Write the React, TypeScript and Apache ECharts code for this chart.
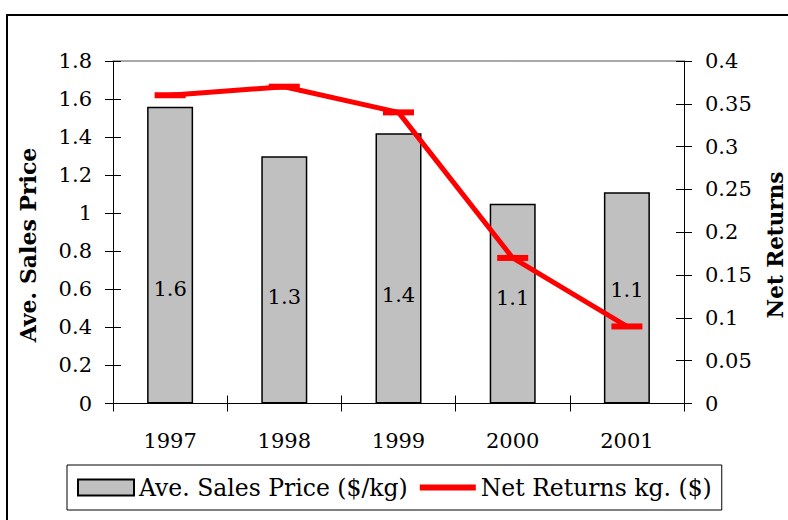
import React, { useEffect, useRef } from "react";
import * as echarts from "echarts";

const categories = ["1997", "1998", "1999", "2000", "2001"];
const salesPrice = [1.56, 1.3, 1.42, 1.05, 1.11];
const netReturns = [0.36, 0.37, 0.34, 0.17, 0.09];
const seriesNames = ["Ave. Sales Price ($/kg)", "Net Returns kg. ($)"];
const axisTitles = ["Ave. Sales Price", "Net Returns"];

// style: per-bar label lift from the bar base (px)
const labelLift = [104, 96, 98, 95, 103];

const FONT = '"DejaVu Serif", serif';

export default function App() {
  const ref = useRef<HTMLDivElement>(null);
  useEffect(() => {
    if (!ref.current) return;
    const chart = echarts.init(ref.current, null, { renderer: "svg" });
    const tickOut = { show: true, inside: false, length: 8, lineStyle: { color: "#000", width: 1 } };
    const tickIn = { show: true, inside: true, length: 8, lineStyle: { color: "#000", width: 1 } };
    const label = { color: "#000", fontSize: 21, fontFamily: FONT };
    chart.setOption({
      animation: false,
      backgroundColor: "#fff",
      textStyle: { fontFamily: FONT, color: "#000" },
      grid: { left: 113, right: 104, top: 61, bottom: 116.5, outerBoundsMode: "none", containLabel: false },
      xAxis: [
        {
          type: "category", data: categories, position: "bottom", boundaryGap: true,
          axisLine: { show: true, onZero: false, lineStyle: { color: "#000", width: 1 } },
          axisTick: { ...tickOut, alignWithLabel: false },
          axisLabel: { ...label, fontSize: 21, margin: 27 },
          splitLine: { show: false },
        },
        {
          type: "category", data: categories, position: "bottom", boundaryGap: true,
          axisLine: { show: false, onZero: false },
          axisTick: { ...tickIn, alignWithLabel: false },
          axisLabel: { show: false },
          splitLine: { show: false },
        },
        {
          type: "category", data: categories, position: "top", boundaryGap: true,
          axisLine: { show: true, onZero: false, lineStyle: { color: "#8c8c8c", width: 1.5 } },
          axisTick: { show: false },
          axisLabel: { show: false },
          splitLine: { show: false },
        },
      ],
      yAxis: [
        {
          type: "value", position: "left", min: 0, max: 1.8, interval: 0.2,
          axisLine: { show: true, lineStyle: { color: "#000", width: 1 } },
          axisTick: tickOut,
          axisLabel: { ...label, margin: 21 },
          splitLine: { show: false },
        },
        {
          type: "value", position: "left", min: 0, max: 1.8, interval: 0.2,
          axisLine: { show: false },
          axisTick: tickIn,
          axisLabel: { show: false },
          splitLine: { show: false },
        },
        {
          type: "value", position: "right", min: 0, max: 0.4, interval: 0.05,
          axisLine: { show: true, lineStyle: { color: "#000", width: 1 } },
          axisTick: tickOut,
          axisLabel: { ...label, margin: 21 },
          splitLine: { show: false },
        },
        {
          type: "value", position: "right", min: 0, max: 0.4, interval: 0.05,
          axisLine: { show: false },
          axisTick: tickIn,
          axisLabel: { show: false },
          splitLine: { show: false },
        },
      ],
      legend: {
        left: 67,
        top: 465,
        padding: [10.5, 10, 10.5, 10],
        itemWidth: 56,
        itemHeight: 16,
        itemGap: 12,
        borderColor: "#000",
        borderWidth: 1,
        textStyle: { color: "#000", fontSize: 23.5, fontFamily: FONT },
        data: [
          { name: seriesNames[0], icon: "rect" },
          { name: seriesNames[1], icon: "path://M0,0M56,16M0,5H56V11H0Z" },
        ],
      },
      series: [
        {
          name: seriesNames[0],
          type: "bar",
          xAxisIndex: 0,
          yAxisIndex: 0,
          barWidth: 46,
          itemStyle: { color: "#c0c0c0", borderColor: "#000", borderWidth: 1.5 },
          label: {
            show: true,
            position: "insideBottom",
            color: "#000",
            fontSize: 21,
            fontFamily: FONT,
            formatter: (p: any) => Number(p.value).toFixed(1),
          },
          data: salesPrice.map((v, i) => ({ value: v, label: { distance: labelLift[i] } })),
        },
        {
          name: seriesNames[1],
          type: "line",
          xAxisIndex: 0,
          yAxisIndex: 2,
          symbol: "rect",
          symbolSize: [31, 6],
          lineStyle: { color: "#ff0000", width: 5 },
          itemStyle: { color: "#ff0000" },
          z: 5,
          data: netReturns,
        },
      ],
      graphic: [
        {
          type: "rect",
          shape: { x: 7, y: 15, width: 900, height: 700 },
          style: { fill: "none", stroke: "#000", lineWidth: 2 },
          silent: true,
        },
        {
          type: "text",
          x: 28,
          y: 245,
          rotation: Math.PI / 2,
          style: {
            text: axisTitles[0],
            fontFamily: FONT,
            fontWeight: "bold",
            fontSize: 22,
            fill: "#000",
            textAlign: "center",
            textVerticalAlign: "middle",
          },
        },
        {
          type: "text",
          x: 775,
          y: 245,
          rotation: Math.PI / 2,
          style: {
            text: axisTitles[1],
            fontFamily: FONT,
            fontWeight: "bold",
            fontSize: 21.5,
            fill: "#000",
            textAlign: "center",
            textVerticalAlign: "middle",
          },
        },
      ],
    });
    return () => chart.dispose();
  }, []);
  return (
    <div
      ref={ref}
      style={{ position: "absolute", left: 0, top: 0, width: 788, height: 520, background: "#fff" }}
    />
  );
}
